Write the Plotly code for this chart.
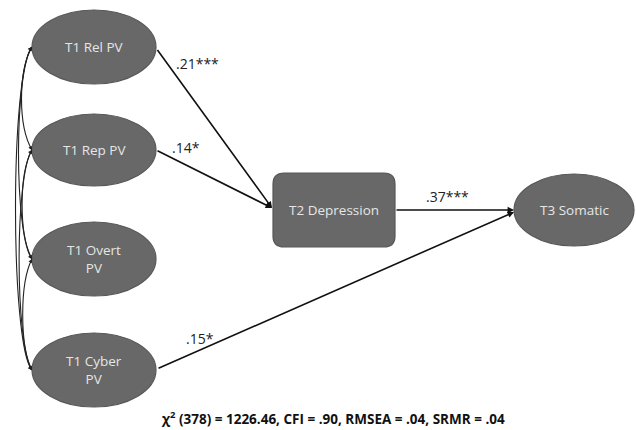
import plotly.graph_objects as go

# ---- data ----
exog_labels = ["T1 Rel PV", "T1 Rep PV", "T1 Overt<br>PV", "T1 Cyber<br>PV"]
mediator_label = "T2 Depression"
outcome_label = "T3 Somatic"
path_sources = ["T1 Rel PV", "T1 Rep PV", "T2 Depression", "T1 Cyber<br>PV"]
path_targets = ["T2 Depression", "T2 Depression", "T3 Somatic", "T3 Somatic"]
path_coefs = [".21***", ".14*", ".37***", ".15*"]
fit_text = "χ<sup>2</sup> (378) = 1226.46, CFI = .90, RMSEA = .04, SRMR = .04"

# ---- layout (pixel space) ----
W, H = 636, 430
ell_pos = {  # cx, cy, rx, ry
    "T1 Rel PV": (94, 47, 62, 37),
    "T1 Rep PV": (94, 150, 62, 36),
    "T1 Overt<br>PV": (94, 259, 62, 37),
    "T1 Cyber<br>PV": (94, 370, 62, 37),
    "T3 Somatic": (574, 210, 60, 36),
}
rect_pos = {"T2 Depression": (273, 173, 395, 247)}
coef_pos = [(197, 63), (186, 147), (447, 196), (200, 338)]
arrow_ends = [((156, 48), (272, 208)), ((156, 150), (272, 208)),
              ((395, 210), (514, 210)), ((157, 369), (514, 212))]

FILL = "#686868"
EDGE = "#585858"
TXT = "#e6e6e6"
FONT = "Open Sans"

fig = go.Figure()
fig.add_trace(go.Scatter(x=[0, W], y=[0, H], mode="markers",
                         marker=dict(opacity=0), hoverinfo="skip", showlegend=False))

shapes = []
annotations = []

# covariance curves (double-headed) between exogenous variables
pairs = [(i, j) for i in range(4) for j in range(i + 1, 4)]
for (i, j) in pairs:
    a = ell_pos[exog_labels[i]]
    b = ell_pos[exog_labels[j]]
    xa, ya = a[0] - a[2], a[1]
    xb, yb = b[0] - b[2], b[1]
    span = j - i
    bulge = {1: 18, 2: 14, 3: 10}[span] + (i * 0.8)
    k = 24
    shapes.append(dict(type="path", xref="x", yref="y",
                       path=f"M {xa},{ya} C {bulge},{ya + k} {bulge},{yb - k} {xb},{yb}",
                       line=dict(color="#222222", width=1.1)))
    for (tx, ty, cx, cy) in [(xa, ya, bulge, ya + k), (xb, yb, bulge, yb - k)]:
        dx, dy = tx - cx, ty - cy
        L = (dx * dx + dy * dy) ** 0.5
        annotations.append(dict(x=tx, y=ty, ax=tx - 6 * dx / L, ay=ty - 6 * dy / L,
                                xref="x", yref="y", axref="x", ayref="y", text=" ",
                                font=dict(size=1),
                                showarrow=True, arrowhead=2, arrowsize=0.7,
                                arrowwidth=1.1, arrowcolor="#222222", standoff=0))

# structural paths
for (s, t), lab, lp in zip(arrow_ends, path_coefs, coef_pos):
    annotations.append(dict(x=t[0], y=t[1], ax=s[0], ay=s[1], xref="x", yref="y",
                            axref="x", ayref="y", text=" ", font=dict(size=1),
                            showarrow=True,
                            arrowhead=2, arrowsize=0.8, arrowwidth=1.6,
                            arrowcolor="#111111", standoff=0))
    annotations.append(dict(x=lp[0], y=lp[1], xref="x", yref="y", text=lab,
                            showarrow=False,
                            font=dict(family=FONT, size=14, color="#222222")))

# ellipses
for name, (cx, cy, rx, ry) in ell_pos.items():
    shapes.append(dict(type="circle", xref="x", yref="y", x0=cx - rx, x1=cx + rx,
                       y0=cy - ry, y1=cy + ry, fillcolor=FILL,
                       line=dict(color=EDGE, width=1.2), layer="above"))
    annotations.append(dict(x=cx, y=cy, xref="x", yref="y", text=name, showarrow=False,
                            font=dict(family=FONT, size=13.5, color=TXT)))

# rounded rectangle
for name, (x0, y0, x1, y1) in rect_pos.items():
    r = 11
    p = (f"M {x0 + r},{y0} L {x1 - r},{y0} Q {x1},{y0} {x1},{y0 + r} "
         f"L {x1},{y1 - r} Q {x1},{y1} {x1 - r},{y1} L {x0 + r},{y1} "
         f"Q {x0},{y1} {x0},{y1 - r} L {x0},{y0 + r} Q {x0},{y0} {x0 + r},{y0} Z")
    shapes.append(dict(type="path", xref="x", yref="y", path=p, fillcolor=FILL,
                       line=dict(color=EDGE, width=1.2), layer="above"))
    annotations.append(dict(x=(x0 + x1) / 2, y=(y0 + y1) / 2, xref="x", yref="y",
                            text=name, showarrow=False,
                            font=dict(family=FONT, size=13.5, color=TXT)))

# fit statistics
annotations.append(dict(x=333, y=418, xref="x", yref="y", text=f"<b>{fit_text}</b>",
                        showarrow=False, font=dict(family=FONT, size=13.5, color="#111111")))

fig.update_layout(
    width=W, height=H, margin=dict(l=0, r=0, t=0, b=0),
    paper_bgcolor="white", plot_bgcolor="white",
    xaxis=dict(range=[0, W], visible=False, fixedrange=True),
    yaxis=dict(range=[H, 0], visible=False, fixedrange=True),
    shapes=shapes, annotations=annotations, showlegend=False,
)
fig.write_html("out.html", config=dict(displayModeBar=False),
               post_script="document.body.style.margin='0';document.body.style.overflow='hidden';")
